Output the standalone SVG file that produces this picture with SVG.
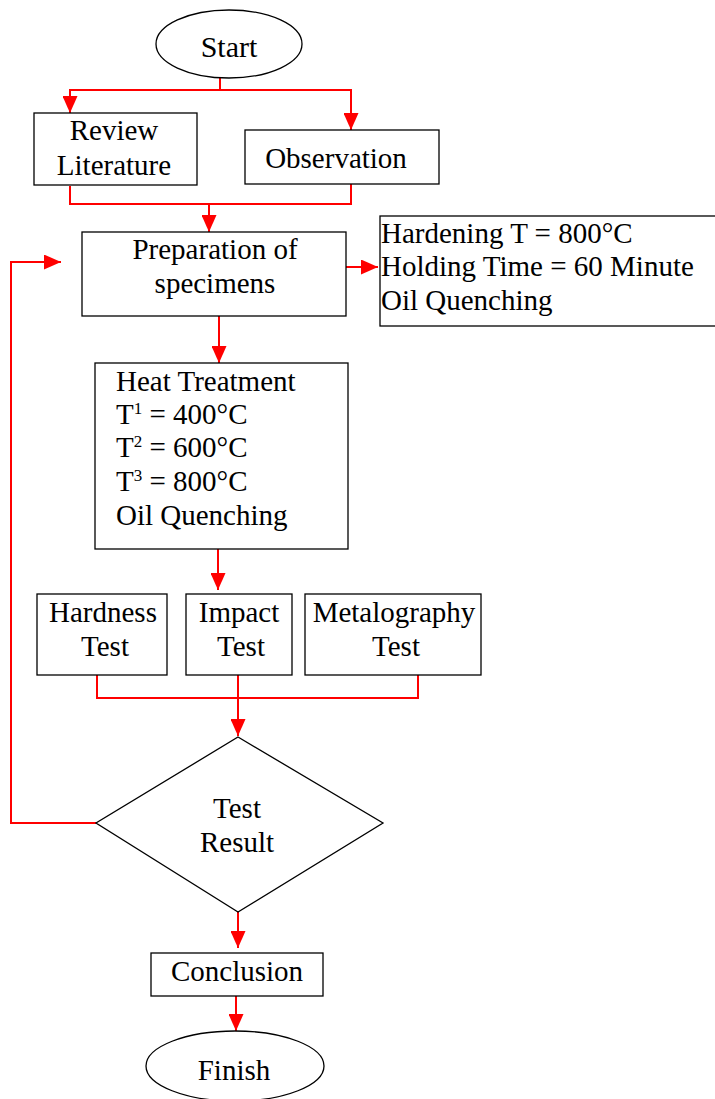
<svg xmlns="http://www.w3.org/2000/svg" width="715" height="1099" viewBox="0 0 715 1099">
<style>
.box{fill:#fff;stroke:#000;stroke-width:1.3}
.t{font-family:"Liberation Serif","Times New Roman",serif;font-size:29px;fill:#000}
.c{text-anchor:middle}
.ln{fill:none;stroke:#ff0000;stroke-width:2}
</style>
<defs>
<marker id="ah" markerUnits="userSpaceOnUse" markerWidth="17" markerHeight="15" refX="17" refY="7.5" orient="auto">
<path d="M0,0 L17,7.5 L0,15 z" fill="#ff0000"/>
</marker>
</defs>
<rect width="715" height="1099" fill="#fff"/>
<g id="connectors">
<path class="ln" d="M220,78 V90"/>
<path class="ln" d="M220,90 H70 V113" marker-end="url(#ah)"/>
<path class="ln" d="M220,90 H351 V130" marker-end="url(#ah)"/>
<path class="ln" d="M70,186 V204 H351 V184"/>
<path class="ln" d="M209,204 V232" marker-end="url(#ah)"/>
<path class="ln" d="M346,267 H378" marker-end="url(#ah)"/>
<path class="ln" d="M219,316 V363" marker-end="url(#ah)"/>
<path class="ln" d="M218,549 V590" marker-end="url(#ah)"/>
<path class="ln" d="M97,675 V698 H418 V675"/>
<path class="ln" d="M238,675 V736" marker-end="url(#ah)"/>
<path class="ln" d="M96,823 H11 V262 H61" marker-end="url(#ah)"/>
<path class="ln" d="M238,912 V948" marker-end="url(#ah)"/>
<path class="ln" d="M236,996 V1031" marker-end="url(#ah)"/>
</g>
<g id="start">
<ellipse class="box" cx="229" cy="44" rx="73" ry="34"/>
<text class="t c" x="229" y="57" style="font-size:30px">Start</text>
</g>
<g id="review">
<rect class="box" x="34" y="113" width="163" height="72"/>
<text class="t c" x="114" y="140">Review</text>
<text class="t c" x="114" y="175">Literature</text>
</g>
<g id="observation">
<rect class="box" x="245" y="130" width="194" height="54"/>
<text class="t c" x="336" y="168">Observation</text>
</g>
<g id="preparation">
<rect class="box" x="82" y="232" width="264" height="84"/>
<text class="t c" x="215" y="259">Preparation of</text>
<text class="t c" x="215" y="293">specimens</text>
</g>
<g id="hardening">
<rect class="box" x="380" y="216" width="340" height="110"/>
<text class="t" x="381" y="243">Hardening T = 800°C</text>
<text class="t" x="381" y="276">Holding Time = 60 Minute</text>
<text class="t" x="381" y="310">Oil Quenching</text>
</g>
<g id="heat-treatment">
<rect class="box" x="95" y="363" width="253" height="186"/>
<text class="t" x="116" y="391">Heat Treatment</text>
<text class="t" x="116" y="424">T<tspan dy="-10" style="font-size:17px">1</tspan><tspan dy="10"> = 400°C</tspan></text>
<text class="t" x="116" y="457">T<tspan dy="-10" style="font-size:17px">2</tspan><tspan dy="10"> = 600°C</tspan></text>
<text class="t" x="116" y="491">T<tspan dy="-10" style="font-size:17px">3</tspan><tspan dy="10"> = 800°C</tspan></text>
<text class="t" x="116" y="525">Oil Quenching</text>
</g>
<g id="hardness">
<rect class="box" x="37" y="594" width="130" height="81"/>
<text class="t c" x="103" y="622">Hardness</text>
<text class="t c" x="105" y="656">Test</text>
</g>
<g id="impact">
<rect class="box" x="186" y="594" width="106" height="81"/>
<text class="t c" x="239" y="622">Impact</text>
<text class="t c" x="241" y="656">Test</text>
</g>
<g id="metalography">
<rect class="box" x="305" y="594" width="176" height="81"/>
<text class="t c" x="394" y="622">Metalography</text>
<text class="t c" x="396" y="656">Test</text>
</g>
<g id="test-result">
<polygon class="box" points="238,737 383,823 238,912 96,823"/>
<text class="t c" x="237" y="818">Test</text>
<text class="t c" x="237" y="852">Result</text>
</g>
<g id="conclusion">
<rect class="box" x="151" y="953" width="172" height="43"/>
<text class="t c" x="237" y="981">Conclusion</text>
</g>
<g id="finish">
<ellipse class="box" cx="235" cy="1066" rx="89" ry="35"/>
<text class="t c" x="234" y="1080">Finish</text>
</g>
</svg>
